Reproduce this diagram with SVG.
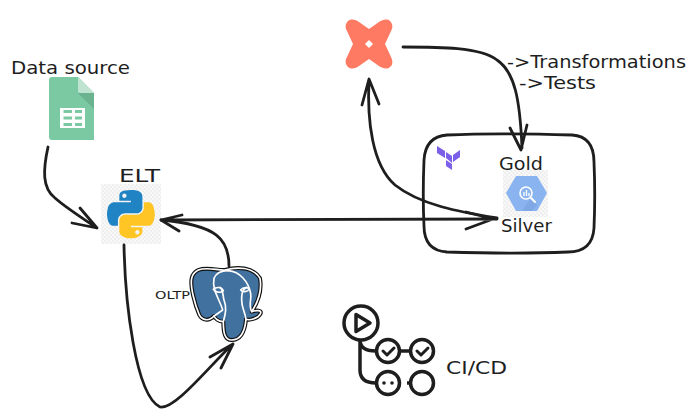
<svg xmlns="http://www.w3.org/2000/svg" width="696" height="418" viewBox="0 0 696 418">
<style>
.c{fill:none;stroke:#1e1e1e;stroke-width:2.8;stroke-linecap:round;stroke-linejoin:round}
.t{font-family:"DejaVu Sans",sans-serif;fill:#1e1e1e;font-size:17px}
.g{fill:none;stroke:#1e1e1e;stroke-width:3.500}
.gh{fill:none;stroke:#1e1e1e;stroke-width:3;stroke-linecap:round;stroke-linejoin:round}
</style>
<defs><pattern id="ck" width="4" height="4" patternUnits="userSpaceOnUse"><rect width="4" height="4" fill="#f8f8f8"/><rect width="2" height="2" fill="#efefef"/><rect x="2" y="2" width="2" height="2" fill="#efefef"/></pattern></defs>
<rect width="696" height="418" fill="#fff"/>
<g id="box"><path class="c" d="M447 135C490 133 540 134 572 135C587 136 594 146 594 162C595 185 595 205 594 228C593 244 584 252 568 252C520 254 480 253 447 252C432 251 424 242 424 226C423 205 423 185 424 160C425 144 433 136 447 135Z"/></g>
<g id="sheet">
<path d="M52 77H78L94 93V140H52Q49 140 49 137V80Q49 77 52 77Z" fill="#7bc9a3"/>
<path d="M78 93L94 109V93Z" fill="#6bb28f"/>
<path d="M78 77L94 93H80Q78 93 78 91Z" fill="#bfe3d1"/>
<rect x="60" y="108" width="25" height="20" fill="#fff"/>
<path d="M63.500 111.500H72M75 111.500H82M63.500 118H72M75 118H82M63.500 124.500H72M75 124.500H82" stroke="#7bc9a3" stroke-width="3" fill="none"/>
<text class="t" x="11" y="74" textLength="119" lengthAdjust="spacingAndGlyphs">Data source</text>
</g>
<g id="python">
<rect x="101" y="184" width="60" height="60" fill="url(#ck)"/>
<g transform="translate(107 190) scale(.43)">
<path fill="#1f83c4" d="M54.919 0.001c-4.584.022-8.961.413-12.813 1.095C30.76 3.099 28.7 7.295 28.7 15.032v10.219h26.813v3.406H28.7h-10.062c-7.792 0-14.616 4.684-16.750 13.594-2.462 10.213-2.571 16.586 0 27.250 1.906 7.938 6.458 13.594 14.250 13.594h9.219v-12.250c0-8.850 7.657-16.656 16.750-16.656h26.781c7.455 0 13.406-6.138 13.406-13.625v-25.531c0-7.266-6.130-12.725-13.406-13.937C64.282.328 59.502-.02 54.918.001zm-14.500 8.219c2.770 0 5.031 2.299 5.031 5.125 0 2.816-2.262 5.094-5.031 5.094-2.779 0-5.031-2.278-5.031-5.094 0-2.826 2.252-5.125 5.031-5.125z"/>
<path fill="#fec524" d="M85.638 28.657v11.906c0 9.231-7.826 17-16.750 17H42.106c-7.336 0-13.406 6.279-13.406 13.625v25.531c0 7.266 6.319 11.540 13.406 13.625 8.487 2.496 16.626 2.947 26.781 0 6.750-1.954 13.406-5.888 13.406-13.625v-10.219H55.513v-3.406h40.188c7.792 0 10.696-5.435 13.406-13.594 2.799-8.399 2.680-16.476 0-27.250-1.926-7.757-5.604-13.594-13.406-13.594zm-15.063 64.656c2.779 0 5.031 2.278 5.031 5.094 0 2.826-2.252 5.125-5.031 5.125-2.770 0-5.031-2.299-5.031-5.125 0-2.816 2.262-5.094 5.031-5.094z"/>
</g>
<text class="t" x="119" y="182" textLength="41" lengthAdjust="spacingAndGlyphs">ELT</text>
</g>
<g id="dbt">
<path fill="#ff7a62" d="M348 21C352 18 356 20 359 22L369 29L379 22C382 20 387 18 390 21C393 24 393 28 391 31L385 44L391 57C393 61 393 65 390 67C387 70 382 68 379 66L369 59L359 66C356 68 352 70 348 67C345 64 345 60 347 57L353 44L347 31C345 28 345 24 348 21Z"/>
<path d="M369 40L373 44L369 48L365 44Z" fill="#fff"/>
</g>
<g id="transforms">
<text class="t" x="507" y="68" textLength="179" lengthAdjust="spacingAndGlyphs">-&gt;Transformations</text>
<text class="t" x="519" y="88.500" textLength="77" lengthAdjust="spacingAndGlyphs">-&gt;Tests</text>
</g>
<g id="terraform" fill="#7b5fe8">
<path d="M437 146L445 151V158L437 153Z"/>
<path d="M446 152L452 156V163L446 158Z"/>
<path d="M453 155L460 150V157L453 162Z"/>
<path d="M446 160L452 164V170L446 166Z"/>
</g>
<g id="bigquery">
<rect x="503" y="170" width="45" height="47" fill="url(#ck)"/>
<path d="M506 193L516 176H537L547 193L537 211H516Z" fill="#8ab4f0"/>
<path d="M530 199L537 205L532 211H522Z" fill="#7aa3e0" opacity=".7"/>
<circle cx="526" cy="193" r="6" fill="#8ab4f0" stroke="#fff" stroke-width="1.600"/>
<path d="M531 198L535 202" stroke="#fff" stroke-width="2" stroke-linecap="round"/>
<path d="M524 192V196M526.500 190V196M529 193V196" stroke="#fff" stroke-width="1.300"/>
<text class="t" x="499" y="170" textLength="44" lengthAdjust="spacingAndGlyphs">Gold</text>
<text class="t" x="501" y="232" textLength="51" lengthAdjust="spacingAndGlyphs">Silver</text>
</g>
<g id="postgres">
<g transform="translate(140 250) scale(.3333)">
<path fill="#40719f" stroke="#111" stroke-width="12" stroke-linejoin="round" d="M175 60C200 50 235 62 255 60C290 50 340 50 360 85C368 130 345 170 335 185C350 180 365 180 362 190C355 205 330 212 318 208C315 240 305 270 275 270C255 270 250 250 250 215C235 215 225 205 222 198C210 212 190 215 178 195C165 165 150 110 155 85C158 70 165 65 175 60Z"/>
<g fill="none" stroke="#fff" stroke-width="5" stroke-linecap="round" stroke-linejoin="round">
<path d="M175 60C200 50 235 62 255 60C290 50 340 50 360 85C368 130 345 170 335 185C350 180 365 180 362 190C355 205 330 212 318 208C315 240 305 270 275 270C255 270 250 250 250 215C235 215 225 205 222 198C210 212 190 215 178 195C165 165 150 110 155 85C158 70 165 65 175 60Z"/>
<path d="M222 198C235 190 240 185 248 180C240 150 215 120 222 85C228 70 245 62 265 62C300 65 325 95 332 130C335 150 325 165 335 185"/>
<path d="M250 215C255 195 262 175 252 150C248 135 250 120 240 112"/>
<path d="M318 208C315 185 305 175 305 150C305 135 305 120 320 112"/>
<path d="M220 118C228 110 245 110 250 122C245 128 228 130 220 118ZM302 120C310 110 325 112 328 118C322 126 308 128 302 120Z"/>
</g>
</g>
<text class="t" x="155" y="299" textLength="35" lengthAdjust="spacingAndGlyphs" style="font-size:10px">OLTP</text>
</g>
<g id="github">
<circle class="g" cx="361" cy="323" r="17"/>
<path class="g" d="M356 314.500L370 323L356 331.500Z" stroke-linejoin="round"/>
<circle class="g" cx="388" cy="351" r="11.500"/>
<circle class="g" cx="422" cy="351" r="11.500"/>
<circle class="g" cx="388" cy="383" r="11.500"/>
<circle class="g" cx="422" cy="383" r="11.500"/>
<path class="g" d="M360 340V370Q360 383 376 383M360 340Q360 351 376 351M400 351H410"/>
<path class="gh" d="M383 351L387 355L394 348M417 351L421 355L428 348"/>
<path d="M410 383H407" class="g"/>
<circle cx="384" cy="383" r="1.800" fill="#1e1e1e"/><circle cx="392" cy="383" r="1.800" fill="#1e1e1e"/>
<text class="t" x="446" y="374" textLength="61" lengthAdjust="spacingAndGlyphs">CI/CD</text>
</g>
<g id="connectors">
<path class="c" d="M48 147C43 170 42 188 55 198C65 207 85 220 97 228M80 208L97 228L72 223"/>
<path class="c" d="M182 215L161 220L179 231M161 220L497 219M466 212L493 219L466 229"/>
<path class="c" d="M362 105L369 79L379 104M369 80C367 120 372 165 395 185C420 205 460 212 497 218"/>
<path class="c" d="M403 47C440 47 480 47 497 60C515 72 520 100 522 148M510 128L521 150L527 125"/>
<path class="c" d="M229 266C229 240 218 225 161 220"/>
<path class="c" d="M124 245C125 300 135 395 160 407C175 410 210 365 233 344M210 357L233 344L221 368"/>
</g>
</svg>
